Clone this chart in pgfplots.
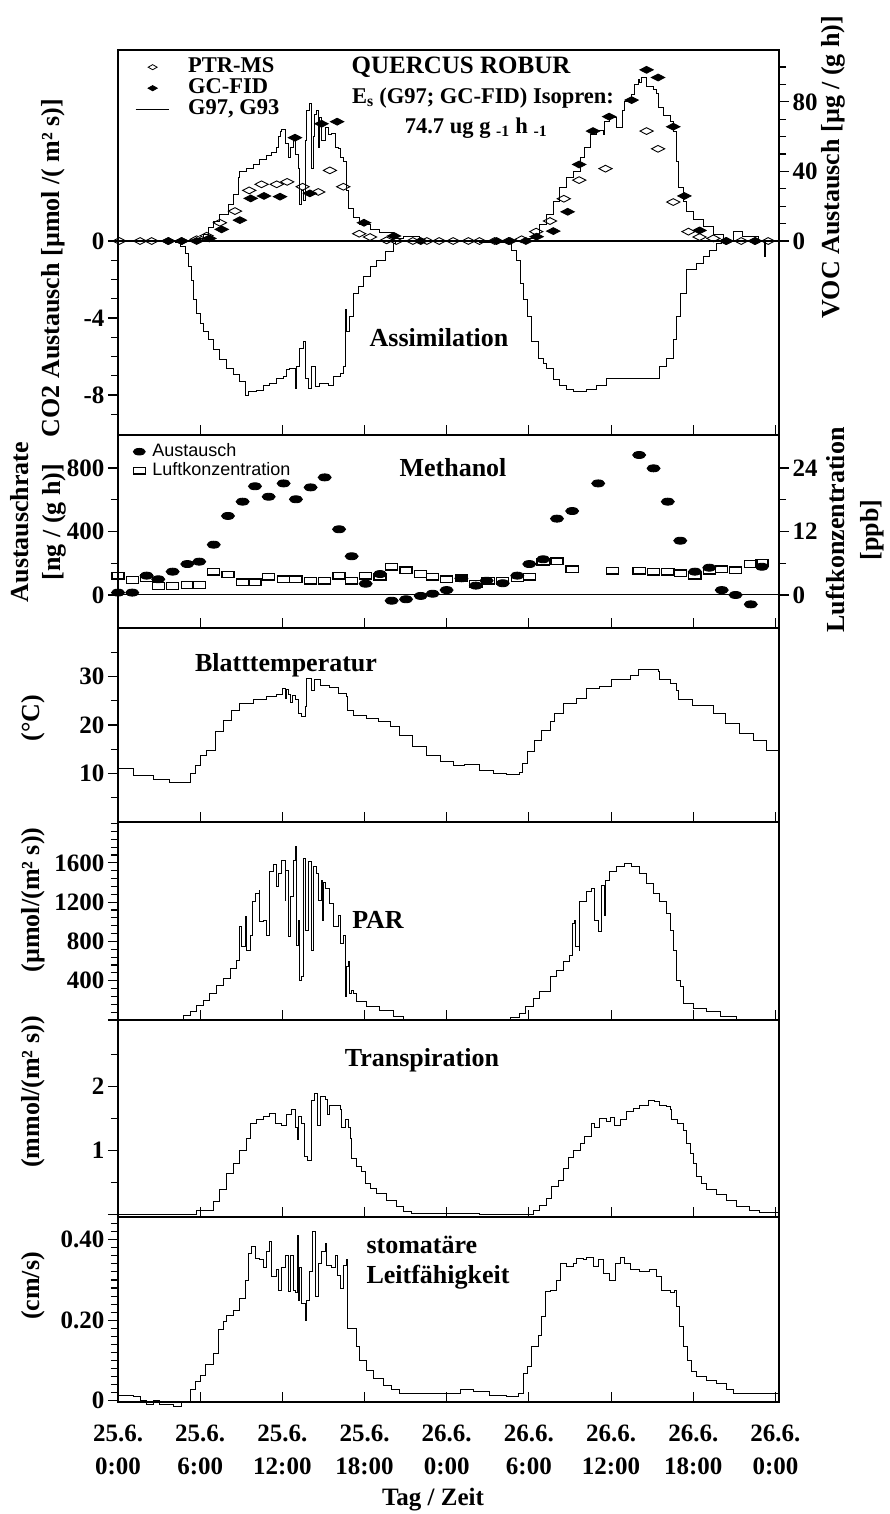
\documentclass[border=0pt]{standalone}
\usepackage{fontspec}
\setmainfont{Liberation Serif}
\newfontfamily\arial{Liberation Sans}
\usepackage{pgfplots}
\pgfplotsset{compat=1.18}
\newcommand{\fs}[1]{\fontsize{#1}{#1}\selectfont\bfseries}
\pgfplotsset{
  panel/.style={
    scale only axis, width=661pt, anchor=south west,
    xmin=0, xmax=48.26,
    axis line style={line width=1.5pt},
    tick style={line width=1.1pt, black},
    xtick={0,6,...,48}, xticklabels={},
    xtick align=inside, ytick align=outside,
    xtick pos=left,
    major tick length=10pt, minor tick length=7pt,
    yticklabel style={font=\fs{25}},
    every axis plot/.append style={line width=0.9pt, black},
  },
  leftpanel/.style={panel, ytick pos=left, yticklabel pos=left},
  rightpanel/.style={panel, axis x line=none, axis y line*=right, ytick pos=right, yticklabel pos=right},
}
\begin{document}
\begin{tikzpicture}
\useasboundingbox (0,0) rectangle (890pt,-1514pt);

% ---------------- Panel 1: CO2 (left) ----------------
\begin{axis}[leftpanel, at={(118pt,-435pt)}, height=385pt,
  ymin=-10.08, ymax=9.92, ytick={-8,-4,0}, yticklabels={-8,-4,0},
  minor ytick={-9,-7,-6,-5,-3,-2,-1}]
\addplot[const plot] table {
x y
0 0
4.17 -0.1
4.53 -0.3
4.89 -0.64
5.14 -1.33
5.38 -2.03
5.5 -3.06
5.74 -3.76
5.99 -4.28
6.27 -4.71
6.59 -5.14
6.96 -5.66
7.44 -6.18
7.94 -6.6
8.42 -6.96
8.9 -7.3
9.27 -8.0
9.5 -7.83
10.11 -7.74
10.62 -7.53
11.09 -7.4
11.59 -7.13
12.07 -7.05
12.31 -6.7
12.54 -6.6
12.92 -7.65
13.04 -6.53
13.28 -5.57
13.53 -5.23
13.65 -7.13
13.89 -7.65
14.15 -6.53
14.38 -7.57
14.74 -7.4
15.37 -7.48
15.72 -7.05
16.21 -6.87
16.48 -6.53
16.57 -3.58
16.68 -4.71
16.93 -3.93
17.19 -2.72
17.54 -2.37
17.9 -1.85
18.4 -1.33
18.88 -0.99
19.49 -0.56
20.1 -0.12
20.22 0
26.4 -0.1
28.37 -0.12
28.72 -0.47
29.12 -0.99
29.35 -2.2
29.58 -3.06
29.92 -3.93
30.2 -5.23
30.68 -6.1
31.04 -6.35
31.29 -6.6
31.78 -7.2
32.25 -7.53
32.76 -7.7
33.26 -7.83
34.21 -7.7
34.94 -7.48
35.67 -7.13
39.08 -7.13
39.56 -6.53
40.04 -6.1
40.54 -5.14
40.78 -3.93
41.03 -2.72
41.51 -1.5
42.24 -1.16
42.72 -0.82
43.21 -0.47
43.7 -0.12
44.08 0
47.23 -0.8
47.3 0
48.26 0
};
\addplot[line width=1.5pt] coordinates {(0,0) (48.26,0)};
\end{axis}

% ---------------- Panel 1: VOC (right) ----------------
\begin{axis}[rightpanel, at={(118pt,-435pt)}, height=385pt,
  ymin=-111.5, ymax=109.8,
  ytick={0,40,80}, yticklabels={0,40,80},
  minor ytick={10,20,30,50,60,70,90,100},
  legend style={at={(axis description cs:0,1)}, anchor=north west,
    xshift=14pt, yshift=-5pt, draw=none, fill=none, font=\fs{22.5},
    nodes={inner sep=0pt, text height=15pt, text depth=5pt},
    row sep=1pt, column sep=19pt, legend cell align=left},
  legend image code/.code={\draw[#1, mark repeat=2, mark phase=2] plot coordinates {(0pt,0pt) (17pt,0pt) (33pt,0pt)};}]
\addlegendimage{only marks, mark=diamond, mark size=3pt, mark options={solid, xscale=2, yscale=0.85, fill=white, line width=0.8pt}}
\addlegendentry{PTR-MS}
\addlegendimage{only marks, mark=diamond*, mark size=3pt, mark options={solid, xscale=2, yscale=0.85, fill=black}}
\addlegendentry{GC-FID}
\addlegendimage{line width=0.9pt, black}
\addlegendentry{G97, G93}
\addplot[const plot, forget plot] table {
x y
0 0
5.6 0
5.74 1.5
6.23 3.8
6.59 7.6
6.96 11.5
7.44 15.3
8.05 21
8.42 26.8
8.78 36.4
8.9 40.2
9.4 42
9.88 44
10.36 47
10.86 49
11.22 51
11.59 54
11.7 60
11.83 63
11.95 64
12.19 56
12.44 48
12.56 54
12.8 58
12.92 50
13.14 42
13.28 21
13.41 29
13.53 23.6
13.65 58
13.75 75
14.01 79
14.14 42
14.26 60
14.36 73
14.51 75
14.62 54
14.74 71
14.86 58
15.11 65
15.37 61
15.6 62
15.84 54
16.08 53
16.21 48
16.45 46
16.68 29
16.81 19
17.19 13.4
17.66 9.6
18.4 6.7
19.11 4.8
20.1 1.5
20.83 2.9
22.04 0
28.37 0
29.72 1.5
30.33 3.8
30.8 9.6
31.29 15.3
31.78 23
32.25 30.6
32.76 36.4
33.26 40
33.73 48
34.07 54
34.46 61
34.94 63.8
35.43 61
35.55 69
35.91 72
36.15 71
36.4 65
36.8 75
37.0 80.5
37.25 81.4
37.5 84
37.74 90
37.98 93
38.1 91
38.21 94
38.59 89
39.08 87
39.33 85
39.43 76.6
39.8 72
40.3 69
40.54 63.2
40.78 46
40.91 30.6
41.25 23
41.51 17.2
42.0 12.5
42.72 8.6
43.45 3.8
44.18 0
44.9 5.7
45.6 2.9
46.75 0
48.26 0
};
\addplot[only marks, forget plot, mark=diamond, mark size=4pt,
  mark options={xscale=2.2, yscale=0.85, fill=white, line width=0.9pt}] table {
x y
0.1 0
1.61 0
2.46 0
3.67 0
4.65 0
5.74 1
6.47 3
7.44 10.5
8.54 17.2
9.58 29.1
10.48 32.6
11.59 32.6
12.35 34
13.48 31.2
14.62 28.2
15.47 40.6
16.45 31.2
17.61 4.2
18.4 2.3
19.61 0.4
20.32 0
21.53 0
22.55 0
23.45 0
24.47 0
25.58 0
26.39 0
27.5 0
28.51 0
29.47 1
30.53 5.4
31.54 11.5
32.55 24.3
33.67 35
35.59 41.6
38.59 63.2
39.43 53
40.54 22.4
41.65 5.4
42.46 2.3
43.47 1.5
44.43 0
45.5 0
46.51 0
47.47 0
};
\addplot[only marks, forget plot, mark=diamond*, mark size=4pt,
  mark options={xscale=2.2, yscale=0.85, fill=black}] table {
x y
3.67 0
4.65 0
5.74 0
6.67 1.5
7.57 6.7
8.9 12
9.69 24.5
10.66 25.9
11.83 25.5
12.92 59.4
14.01 27.4
14.86 67.4
16.0 68.6
17.96 10.5
20.15 2.9
22.1 0
27.64 0
28.61 0
29.78 0
30.56 2.5
31.78 5.7
32.83 16.8
33.67 44
34.68 63.2
35.86 71.5
37.5 81
38.59 98.4
39.43 94
40.54 65.7
41.35 25.9
42.46 6.1
44.38 0
46.51 0
};
\end{axis}

% ---------------- Panel 2: Methanol ----------------
\begin{axis}[leftpanel, at={(118pt,-628pt)}, height=193pt,
  ymin=-208, ymax=1008, ytick={0,400,800}, yticklabels={0,400,800},
  minor ytick={200,600}]
\addplot[only marks, mark=*, mark size=3.5pt, mark options={xscale=1.85}] table {
x y
0 15
1.04 15
2.09 122
2.94 99
3.99 147
5.06 195
5.93 210
6.99 317
8.03 498
9.10 588
10.0 685
11.0 619
12.09 703
12.99 603
14.06 678
15.09 741
16.14 414
17.06 244
18.08 71
19.13 132
19.98 -36
21.03 -27
22.1 -6
22.97 8
23.99 31
25.07 105
26.13 59
26.91 90
28.09 74
29.15 122
30.03 195
31.04 225
32.05 481
33.16 529
35.06 703
38.05 882
39.1 798
40.14 588
41.05 342
42.12 147
43.17 172
44.08 31
45.09 0
46.2 -59
47.01 178
};
\addplot[line width=1pt] coordinates {(0,0) (48.26,0)};
\end{axis}
\begin{axis}[rightpanel, at={(118pt,-628pt)}, height=193pt,
  ymin=-6.24, ymax=30.24,
  ytick={0,12,24}, yticklabels={0,12,24}, minor ytick={6,18},
  legend style={at={(axis description cs:0,1)}, anchor=north west,
    xshift=12pt, yshift=-6pt, draw=none, fill=none, font=\arial\fontsize{18}{18}\selectfont,
    nodes={inner sep=0pt, text height=13pt, text depth=4pt},
    row sep=2pt, column sep=7pt, legend cell align=left},
  legend image code/.code={\draw[#1, mark repeat=2, mark phase=2] plot coordinates {(0pt,0pt) (7pt,0pt) (14pt,0pt)};}]
\addlegendimage{only marks, mark=*, mark size=3.3pt, mark options={fill=black, xscale=1.8}}
\addlegendentry{Austausch}
\addlegendimage{only marks, mark=square, mark size=3.2pt, mark options={xscale=1.9, line width=1.3pt}}
\addlegendentry{Luftkonzentration}
\addplot[only marks, forget plot, mark=square, mark size=3.2pt,
  mark options={xscale=1.9, line width=1.3pt, fill=none}] table {
x y
0 3.65
1.04 2.84
2.09 3.15
2.94 1.7
3.99 1.7
5.06 1.89
5.93 1.89
6.99 4.4
8.03 3.9
9.10 2.4
10.0 2.4
11.0 3.46
12.09 2.96
12.99 2.96
14.06 2.7
15.09 2.7
16.14 3.65
17.06 2.7
18.08 3.65
19.13 3.46
19.98 5.35
21.03 4.7
22.1 3.97
22.97 3.46
23.99 2.96
25.07 3.15
26.13 2.08
27.03 2.7
28.09 2.7
29.15 3.15
30.03 3.46
31.04 6.3
32.05 6.4
33.16 4.85
36.11 4.6
38.05 4.6
39.1 4.4
40.14 4.4
41.05 4.1
42.12 3.65
43.17 4.6
44.08 4.85
45.09 4.7
46.2 5.85
47.01 6.1
};
\end{axis}

% ---------------- Panel 3: Blatttemperatur ----------------
\begin{axis}[leftpanel, at={(118pt,-822pt)}, height=194pt,
  ymin=0, ymax=40, ytick={10,20,30}, yticklabels={10,20,30},
  minor ytick={5,15,25,35}]
\addplot[const plot] table {
x y
0 11.07
1.11 9.7
2.58 8.8
3.79 8.1
5.14 8.1
5.31 10.0
5.62 11.75
5.99 13.8
6.47 14.8
7.08 18.6
7.68 21
8.29 23.1
8.9 24.5
9.88 25.2
10.86 25.8
11.59 26.2
12.02 27.6
12.2 25.4
12.3 27.4
12.44 26.2
12.6 24.6
12.7 26.0
12.92 25.2
13.14 22.4
13.41 21.7
13.65 23.8
13.75 29.6
14.01 29.6
14.15 27.2
14.36 29.3
14.76 28.2
15.47 27.8
16.07 26.5
16.68 25.8
16.74 23.1
17.19 21.9
18.16 21.4
19.01 20.7
19.86 19.65
20.58 17.9
21.53 15.5
22.55 13.8
23.51 12.4
24.47 11.75
25.33 11.9
26.39 10.6
27.4 10.0
28.37 9.8
29.32 10.2
29.52 12.1
29.92 14.5
30.43 16.9
30.94 18.97
31.54 20.7
31.9 22.4
32.5 24.5
33.46 25.5
34.21 27.6
35.18 28.0
36.04 29.3
36.8 29.3
37.41 30.3
38.01 31.5
39.43 31.0
39.53 29.3
40.3 28.6
40.74 27.2
40.9 25.2
41.96 24.1
43.47 22.3
44.38 20.4
45.39 18.3
46.4 16.9
47.31 14.8
48.26 13.8
};
\end{axis}

% ---------------- Panel 4: PAR ----------------
\begin{axis}[leftpanel, at={(118pt,-1020pt)}, height=198pt,
  ymin=0, ymax=2016, ytick={0,400,800,1200,1600}, yticklabels={,400,800,1200,1600},
  minor ytick={80,160,240,320,480,560,640,720,880,960,1040,1120,1280,1360,1440,1520,1680,1760,1840,1920,2000}]
\addplot[const plot] table {
x y
0 0
4.29 10
4.77 44
5.26 85
5.74 146
6.23 204
6.71 271
7.2 350
7.68 424
8.18 526
8.66 611
8.9 950
9.03 746
9.27 1052
9.39 713
9.64 865
9.83 1204
10.01 1290
10.31 1323
10.36 1000
10.62 1018
10.86 865
11.09 1510
11.34 1588
11.59 1357
11.7 1493
11.95 1629
12.19 1222
12.26 1527
12.44 848
12.56 1255
12.8 1629
12.99 1764
13.04 763
13.14 1018
13.28 407
13.41 441
13.53 1646
13.65 916
13.89 1611
14.14 713
14.26 1560
14.51 1493
14.62 1222
14.86 1425
14.92 1018
14.98 1400
15.11 1340
15.47 1188
15.72 950
16.08 1069
16.21 781
16.45 865
16.57 237
16.68 543
16.81 594
16.88 271
17.06 305
17.19 271
17.42 187
18.15 136
19.11 95
20.1 34
20.83 0
28.13 0
28.63 24
29.32 68
29.72 136
30.33 221
30.8 288
31.54 441
32.02 509
32.5 594
32.96 662
33.16 984
33.36 1018
33.43 746
33.67 713
33.72 1204
34.21 1306
34.58 1340
34.75 1018
35.06 899
35.3 1374
35.55 1069
35.62 1425
35.91 1510
36.4 1560
37.0 1595
37.5 1560
38.1 1493
38.59 1391
39.08 1290
39.56 1204
40.04 1086
40.3 916
40.54 713
40.78 407
41.03 339
41.25 170
42.0 119
42.97 85
43.95 41
45.16 0
48.26 0
};
\end{axis}

% ---------------- Panel 5: Transpiration ----------------
\begin{axis}[leftpanel, at={(118pt,-1217pt)}, height=197pt,
  ymin=-0.036, ymax=3.04, ytick={0,1,2}, yticklabels={,1,2},
  minor ytick={0.5,1.5,2.5}]
\addplot[const plot] table {
x y
0 0
5.38 0
5.74 0.06
6.96 0.2
7.44 0.39
7.94 0.65
8.42 0.8
8.9 1.01
9.39 1.19
9.69 1.43
10.11 1.48
10.62 1.53
11.09 1.58
11.46 1.43
11.95 1.4
12.31 1.56
12.68 1.65
12.92 1.37
13.11 1.17
13.14 1.53
13.41 1.43
13.58 0.91
13.82 0.85
14.14 1.79
14.31 1.9
14.55 1.4
14.79 1.84
15.11 1.8
15.27 1.56
15.47 1.71
15.96 1.7
16.26 1.64
16.33 1.37
16.57 1.48
16.81 1.37
16.98 1.19
17.05 0.88
17.42 0.75
17.79 0.67
18.03 0.49
18.4 0.41
18.88 0.33
19.61 0.23
20.34 0.125
20.83 0.05
21.43 0.02
26.39 0
29.58 0.01
30.33 0.07
30.8 0.15
31.29 0.26
31.64 0.44
32.15 0.54
32.5 0.72
32.86 0.9
33.26 1.01
33.73 1.12
34.07 1.22
34.58 1.43
34.82 1.37
35.18 1.51
35.67 1.45
35.96 1.52
36.27 1.4
36.65 1.48
37.13 1.61
37.61 1.66
38.1 1.71
38.72 1.79
39.2 1.77
39.56 1.71
40.04 1.69
40.3 1.64
40.42 1.48
40.84 1.43
41.29 1.32
41.53 1.12
41.76 0.96
42.0 0.8
42.24 0.59
42.6 0.49
42.97 0.39
43.7 0.31
44.43 0.23
45.16 0.125
46.13 0.07
46.86 0.03
48.26 0.03
};
\end{axis}

% ---------------- Panel 6: stomatal conductance ----------------
\begin{axis}[leftpanel, at={(118pt,-1402pt)}, height=185pt, clip=false,
  ymin=-0.0032, ymax=0.4564, ytick={0,0.2,0.4}, yticklabels={0,0.20,0.40},
  minor ytick={0.02,0.04,0.06,0.08,0.10,0.12,0.14,0.16,0.18,0.22,0.24,0.26,0.28,0.30,0.32,0.34,0.36,0.38,0.42,0.44},
  xticklabels={{25.6.\\0:00},{25.6.\\6:00},{25.6.\\12:00},{25.6.\\18:00},{26.6.\\0:00},{26.6.\\6:00},{26.6.\\12:00},{26.6.\\18:00},{26.6.\\0:00}},
  xticklabel style={align=center, font=\fontsize{25}{33}\selectfont\bfseries, yshift=-19pt}]
\addplot[const plot] table {
x y
0 0.014
1.11 0.01
1.61 0
2.09 -0.01
2.58 0
3.06 -0.01
4.04 -0.013
4.65 -0.005
5.26 0
5.31 0.027
5.62 0.047
5.99 0.064
6.35 0.089
6.96 0.118
7.32 0.176
7.68 0.196
7.94 0.213
8.42 0.225
8.9 0.254
9.27 0.3
9.5 0.366
9.76 0.383
10.01 0.354
10.36 0.35
10.62 0.33
10.86 0.37
11.09 0.395
11.22 0.308
11.59 0.325
11.7 0.275
11.95 0.33
12.19 0.362
12.44 0.271
12.56 0.36
12.8 0.275
12.92 0.27
13.11 0.41
13.14 0.25
13.28 0.33
13.41 0.242
13.65 0.2
13.77 0.25
14.01 0.32
14.21 0.42
14.38 0.26
14.62 0.34
14.86 0.37
15.11 0.39
15.25 0.335
15.6 0.33
15.84 0.36
16.0 0.31
16.21 0.28
16.45 0.335
16.68 0.35
16.74 0.18
17.3 0.18
17.42 0.134
17.66 0.1
18.15 0.076
18.63 0.056
19.37 0.039
19.98 0.027
20.58 0.018
24.97 0.027
25.93 0.022
27.15 0.014
28.37 0.01
29.22 0.018
29.58 0.068
29.88 0.085
30.2 0.134
30.68 0.163
30.94 0.209
31.24 0.271
31.54 0.275
32.02 0.3
32.31 0.341
32.76 0.333
33.26 0.341
33.46 0.353
33.97 0.35
34.21 0.357
34.7 0.333
35.08 0.35
35.43 0.317
35.89 0.3
36.29 0.34
36.65 0.357
37.0 0.341
37.38 0.325
38.1 0.32
38.83 0.325
39.33 0.308
39.68 0.275
40.3 0.27
40.64 0.275
40.78 0.234
40.98 0.184
41.29 0.134
41.55 0.1
41.88 0.072
42.24 0.06
42.97 0.051
43.7 0.043
44.43 0.027
44.92 0.018
48.26 0.018
};
\end{axis}

% ---------------- Texts ----------------
\node[font=\fs{25}] at (461pt,-67pt) {QUERCUS ROBUR};
\node[font=\fs{22.5}] at (483pt,-98pt) {E\textsubscript{s} (G97; GC-FID) Isopren:};
\node[font=\fs{22.5}] at (476pt,-128pt) {74.7 ug g \textsubscript{-1} h \textsubscript{-1}};
\node[font=\fs{26}] at (439pt,-338pt) {Assimilation};
\node[font=\fs{26}, rotate=90] at (53pt,-268pt) {CO2 Austausch [µmol /( m² s)]};
\node[font=\fs{26}, rotate=90] at (833pt,-167pt) {VOC Austausch [µg / (g h)]};
\node[font=\fs{26}] at (453pt,-468pt) {Methanol};
\node[font=\fontsize{26}{32}\selectfont\bfseries, rotate=90, align=center] at (38pt,-522pt) {Austauschrate\\{}[ng / (g h)]};
\node[font=\fontsize{26}{34}\selectfont\bfseries, rotate=90, align=center] at (855pt,-530pt) {Luftkonzentration\\{}[ppb]};
\node[font=\fs{26}] at (286pt,-665pt) {Blatttemperatur};
\node[font=\fs{26}, rotate=90] at (33pt,-718pt) {(°C)};
\node[font=\fs{26}] at (378pt,-920pt) {PAR};
\node[font=\fs{26}, rotate=90] at (33pt,-900pt) {(µmol/(m² s))};
\node[font=\fs{26}] at (422pt,-1060pt) {Transpiration};
\node[font=\fs{26}, rotate=90] at (33pt,-1092pt) {(mmol/(m² s))};
\node[font=\fontsize{26}{30}\selectfont\bfseries, align=left, anchor=west] at (363pt,-1263pt) {stomatäre\\Leitfähigkeit};
\node[font=\fs{26}, rotate=90] at (33pt,-1286pt) {(cm/s)};
\node[font=\fs{25}] at (433pt,-1500pt) {Tag / Zeit};
\end{tikzpicture}
\end{document}
